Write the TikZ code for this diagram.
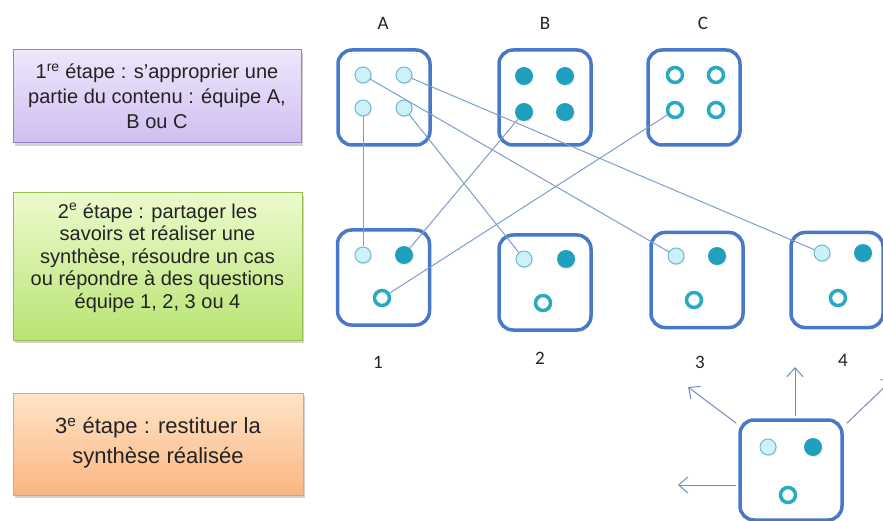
\documentclass[tikz,border=0pt]{standalone}
\usepackage{fontspec}
\setmainfont{Liberation Sans}
\newfontfamily\lblfont{Carlito}
\usetikzlibrary{shadows,arrows.meta}
\definecolor{dieblue}{RGB}{72,120,200}
\definecolor{lightdot}{RGB}{205,240,250}
\definecolor{lightdotb}{RGB}{105,190,212}
\definecolor{darkdot}{RGB}{30,160,190}
\definecolor{ringc}{RGB}{40,170,195}
\definecolor{linkc}{RGB}{125,158,205}
\definecolor{arrowc}{RGB}{115,140,190}
\definecolor{txtc}{RGB}{35,35,35}
\definecolor{pTop}{RGB}{238,230,252}
\definecolor{pBot}{RGB}{208,190,240}
\definecolor{pBrd}{RGB}{150,130,200}
\definecolor{gTop}{RGB}{235,250,205}
\definecolor{gBot}{RGB}{185,228,115}
\definecolor{gBrd}{RGB}{150,190,80}
\definecolor{oTop}{RGB}{255,228,200}
\definecolor{oBot}{RGB}{250,182,128}
\definecolor{oBrd}{RGB}{240,160,90}
\begin{document}
\begin{tikzpicture}[x=1pt,y=-1pt,
  stage/.style={rectangle,draw,line width=1pt,inner sep=0pt,
    drop shadow={opacity=0.35,shadow xshift=2pt,shadow yshift=-3pt}},
  stagetext/.style={text=txtc,align=center,inner sep=0pt},
  die/.style={rectangle,draw=dieblue,line width=3.5pt,rounded corners=14pt,
    minimum width=92pt,minimum height=95pt,fill=white},
  dotshadow/.style={drop shadow={opacity=0.15,shadow xshift=1pt,shadow yshift=-1.5pt}},
  lt/.style={circle,minimum size=16pt,inner sep=0pt,fill=lightdot,draw=lightdotb,line width=1pt,dotshadow},
  dk/.style={circle,minimum size=18pt,inner sep=0pt,fill=darkdot,dotshadow},
  rg/.style={circle,minimum size=15pt,inner sep=0pt,fill=white,draw=ringc,line width=3.5pt},
  link/.style={draw=linkc,line width=1pt},
  arr/.style={draw=arrowc,line width=1pt,-{Straight Barb[length=9pt,width=16pt]}},
  lbl/.style={font=\lblfont\fontsize{19}{22}\selectfont,text=txtc,inner sep=0pt}
]
\useasboundingbox (0,0) rectangle (883,521);
\fill[white] (0,0) rectangle (883,521);

% stage boxes
\node[stage,draw=pBrd,top color=pTop,bottom color=pBot,minimum width=288pt,minimum height=93pt] (s1) at (157,96.5) {};
\node[stagetext,font=\fontsize{20}{25}\selectfont] (s1t) at (s1.center) {1\textsuperscript{re} étape : s'approprier une\\partie du contenu : équipe A,\\B ou C};
\node[stage,draw=gBrd,top color=gTop,bottom color=gBot,minimum width=289pt,minimum height=147pt] (s2) at (157.5,266.5) {};
\node[stagetext,font=\fontsize{20}{22.5}\selectfont] (s2t) at (157.5,258) {2\textsuperscript{e} étape : partager les\\savoirs et réaliser une\\synthèse, résoudre un cas\\ou répondre à des questions\\équipe 1, 2, 3 ou 4};
\node[stage,draw=oBrd,top color=oTop,bottom color=oBot,minimum width=290pt,minimum height=102pt] (s3) at (158,444) {};
\node[stagetext,font=\fontsize{22}{30}\selectfont] (s3t) at (158,443) {3\textsuperscript{e} étape : restituer la\\synthèse réalisée};

% top dice
\node[die] (dA) at (384,97.5) {};
\node[die] (dB) at (545,97.5) {};
\node[die] (dC) at (694,97.5) {};
\node[lbl] (lA) at (383,23) {A};
\node[lbl] (lB) at (545,23) {B};
\node[lbl] (lC) at (703,23) {C};

\node[lt] (a1) at (363,75) {};
\node[lt] (a2) at (404,75) {};
\node[lt] (a3) at (363,108) {};
\node[lt] (a4) at (404,108) {};
\node[dk] (b1) at (524,76) {};
\node[dk] (b2) at (565,76) {};
\node[dk] (b3) at (524,112) {};
\node[dk] (b4) at (565,112) {};
\node[rg] (c1) at (675,75) {};
\node[rg] (c2) at (716,75) {};
\node[rg] (c3) at (675,110) {};
\node[rg] (c4) at (716,110) {};

% bottom dice
\node[die] (d1) at (383.5,277.5) {};
\node[die] (d2) at (545,282.5) {};
\node[die] (d3) at (697,280) {};
\node[die] (d4) at (837,280) {};
\node[lbl] (l1) at (378,362) {1};
\node[lbl] (l2) at (540,358) {2};
\node[lbl] (l3) at (700,362) {3};
\node[lbl] (l4) at (843,360) {4};

\node[lt] (e1a) at (363,255) {};
\node[dk] (e1b) at (404,255) {};
\node[rg] (e1c) at (382,298) {};
\node[lt] (e2a) at (524,259) {};
\node[dk] (e2b) at (566,259) {};
\node[rg] (e2c) at (543,303) {};
\node[lt] (e3a) at (676,256) {};
\node[dk] (e3b) at (717,256) {};
\node[rg] (e3c) at (694,300) {};
\node[lt] (e4a) at (822,253) {};
\node[dk] (e4b) at (863,253) {};
\node[rg] (e4c) at (838,298) {};

% links
\draw[link] (a3) -- (e1a);
\draw[link] (a1) -- (e3a);
\draw[link] (a2) -- (e4a);
\draw[link] (a4) -- (e2a);
\draw[link] (b3) -- (e1b);
\draw[link] (c3) -- (e1c);

% final die
\node[die,minimum width=102pt,minimum height=100pt] (d5) at (791,470) {};
\node[lt] (f1) at (768,447) {};
\node[dk] (f2) at (813,447) {};
\node[rg] (f3) at (788,495) {};

\coordinate (t1) at (688,387);
\coordinate (t2) at (795,367);
\coordinate (t3) at (893,379);
\coordinate (t4) at (678,485);
\draw[arr] ([xshift=-2pt,yshift=-5pt]d5.north west) -- (t1);
\draw[arr] ([xshift=4pt,yshift=2pt]d5.north) -- (t2);
\draw[arr] ([xshift=3pt,yshift=-5pt]d5.north east) -- (t3);
\draw[arr] ([xshift=-2pt,yshift=-15pt]d5.west) -- (t4);
\end{tikzpicture}
\end{document}
